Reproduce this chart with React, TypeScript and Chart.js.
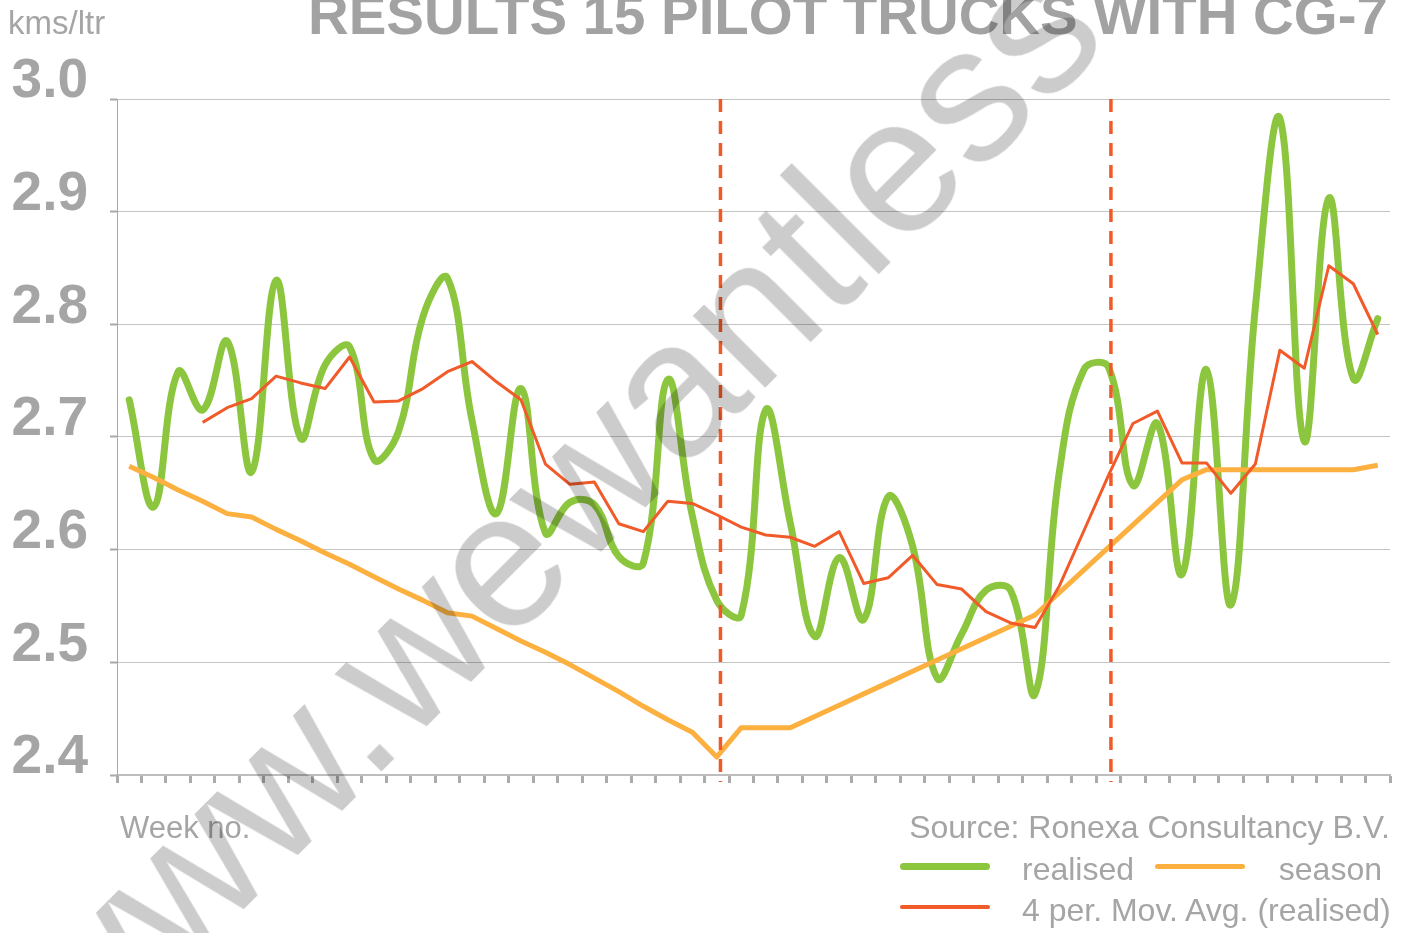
import React, { useEffect, useRef } from "react";
import { Chart, registerables } from "chart.js";

Chart.register(...registerables);

// ---- data ----
const WEEKS = [
  "1", "2", "3", "4", "5", "6", "7", "8", "9", "10", "11", "12", "13",
  "14", "15", "16", "17", "18", "19", "20", "21", "22", "23", "24", "25", "26",
  "27", "28", "29", "30", "31", "32", "33", "34", "35", "36", "37", "38", "39",
  "40", "41", "42", "43", "44", "45", "46", "47", "48", "49", "50", "51", "52",
];

const REALISED = [
  2.733, 2.638, 2.758, 2.724, 2.785, 2.669, 2.839, 2.699, 2.764, 2.780,
  2.680, 2.705, 2.807, 2.841, 2.715, 2.632, 2.743, 2.615, 2.642, 2.640,
  2.594, 2.588, 2.751, 2.630, 2.555, 2.542, 2.724, 2.624, 2.523, 2.593,
  2.538, 2.647, 2.603, 2.486, 2.525, 2.564, 2.564, 2.472, 2.670, 2.760,
  2.762, 2.657, 2.712, 2.578, 2.760, 2.551, 2.815, 2.983, 2.696, 2.912,
  2.752, 2.805,
];

const SEASON = [
  2.674, 2.664, 2.653, 2.643, 2.632, 2.629, 2.618, 2.608, 2.597, 2.587,
  2.576, 2.565, 2.555, 2.544, 2.541, 2.530, 2.519, 2.509, 2.498, 2.486,
  2.474, 2.461, 2.449, 2.438, 2.416, 2.442, 2.442, 2.442, 2.452, 2.462,
  2.472, 2.482, 2.492, 2.502, 2.512, 2.522, 2.532, 2.542, 2.562, 2.582,
  2.602, 2.622, 2.642, 2.662, 2.671, 2.671, 2.671, 2.671, 2.671, 2.671,
  2.671, 2.675,
];

const MOV_AVG = [
  null, null, null, 2.713, 2.726, 2.734, 2.754, 2.748, 2.743, 2.771,
  2.731, 2.732, 2.743, 2.758, 2.767, 2.749, 2.733, 2.676, 2.658, 2.660,
  2.623, 2.616, 2.643, 2.641, 2.631, 2.620, 2.613, 2.611, 2.603, 2.616,
  2.570, 2.575, 2.595, 2.569, 2.565, 2.545, 2.535, 2.531, 2.568, 2.617,
  2.666, 2.712, 2.723, 2.677, 2.677, 2.650, 2.676, 2.777, 2.761, 2.852,
  2.836, 2.791,
];

const Y_TICK_LABELS = ["2.4", "2.5", "2.6", "2.7", "2.8", "2.9", "3.0"];

// season break markers (in week-index units)
const SEASON_BREAKS = [24.15, 40.1];

const GREEN = "#8CC63F";
const ORANGE = "#FBB040";
const RED = "#F15A29";
const TEXT_GRAY = "#a5a5a5";
const FONT = '"Liberation Sans", Arial, Helvetica, sans-serif';

const breakLines = {
  id: "breakLines",
  afterDatasetsDraw(chart: any) {
    const { ctx, chartArea, scales } = chart;
    ctx.save();
    ctx.strokeStyle = "#F05A28";
    ctx.lineWidth = 3.5;
    ctx.setLineDash([13, 9]);
    SEASON_BREAKS.forEach((v) => {
      const x = scales.x.getPixelForValue(v);
      ctx.beginPath();
      ctx.moveTo(x, chartArea.top);
      ctx.lineTo(x, chartArea.bottom + 7);
      ctx.stroke();
    });
    ctx.restore();
  },
};

function Txt(props: {
  x?: number;
  right?: number;
  baseline: number;
  size: number;
  weight?: string;
  color?: string;
  children: React.ReactNode;
}) {
  const { x, right, baseline, size, weight, color, children } = props;
  const style: React.CSSProperties = {
    position: "absolute",
    top: baseline - 0.8465 * size,
    fontSize: size,
    lineHeight: `${size}px`,
    fontWeight: (weight as any) || "normal",
    color: color || TEXT_GRAY,
    whiteSpace: "nowrap",
    fontFamily: FONT,
  };
  if (right !== undefined) {
    style.right = right;
    style.textAlign = "right";
  } else {
    style.left = x;
  }
  return <div style={style}>{children}</div>;
}

function Swatch(props: { x: number; y: number; w: number; h: number; color: string }) {
  const { x, y, w, h, color } = props;
  return (
    <div
      style={{
        position: "absolute",
        left: x,
        top: y - h / 2,
        width: w,
        height: h,
        background: color,
        borderRadius: h / 2,
      }}
    />
  );
}

export default function App() {
  const canvasRef = useRef<HTMLCanvasElement>(null);

  useEffect(() => {
    const canvas = canvasRef.current;
    if (!canvas) return;
    const chart = new Chart(canvas, {
      type: "line",
      data: {
        labels: WEEKS,
        datasets: [
          {
            label: "realised",
            data: REALISED,
            borderColor: GREEN,
            backgroundColor: GREEN,
            borderWidth: 7,
            tension: 0.4,
            pointRadius: 0,
            borderJoinStyle: "round",
            borderCapStyle: "round",
            fill: false,
            order: 3,
          },
          {
            label: "season",
            data: SEASON,
            borderColor: ORANGE,
            backgroundColor: ORANGE,
            borderWidth: 5,
            tension: 0,
            pointRadius: 0,
            borderJoinStyle: "round",
            fill: false,
            order: 2,
          },
          {
            label: "4 per. Mov. Avg. (realised)",
            data: MOV_AVG as any,
            borderColor: RED,
            backgroundColor: RED,
            borderWidth: 3,
            tension: 0,
            pointRadius: 0,
            borderJoinStyle: "round",
            fill: false,
            order: 1,
          },
        ],
      },
      options: {
        responsive: false,
        animation: false,
        devicePixelRatio: 1,
        events: [],
        layout: { padding: { top: 99, right: 25, bottom: 0, left: 0 } },
        plugins: {
          legend: { display: false },
          tooltip: { enabled: false },
          title: { display: false },
        },
        scales: {
          x: {
            type: "category",
            offset: true,
            grid: {
              offset: true,
              drawOnChartArea: false,
              drawTicks: true,
              tickLength: 8,
              tickWidth: 3,
              tickColor: "#ababab",
            },
            border: { color: "#bdbdbd", width: 2 },
            ticks: { display: false, autoSkip: false },
            afterFit: (scale: any) => {
              scale.height = 158;
            },
          },
          y: {
            min: 2.4,
            max: 3.0,
            grid: {
              color: "#c4c4c4",
              lineWidth: 1,
              tickLength: 7,
              tickWidth: 2,
              tickColor: "#a9a9a9",
            },
            border: { color: "#a9a9a9", width: 1 },
            ticks: {
              stepSize: 0.1,
              padding: 22,
              labelOffset: -17,
              color: TEXT_GRAY,
              font: { family: FONT, size: 55, weight: "bold" },
              callback: (value: any) => {
                const idx = Math.round((Number(value) - 2.4) * 10);
                return Y_TICK_LABELS[idx] ?? "";
              },
            },
            afterFit: (scale: any) => {
              scale.width = 117;
            },
          },
        },
      },
      plugins: [breakLines],
    });
    return () => chart.destroy();
  }, []);

  return (
    <div
      style={{
        position: "fixed",
        left: 0,
        top: 0,
        width: 1415,
        height: 933,
        overflow: "hidden",
        background: "#ffffff",
        fontFamily: FONT,
      }}
    >
      <canvas
        ref={canvasRef}
        width={1415}
        height={933}
        style={{ position: "absolute", left: 0, top: 0, width: 1415, height: 933 }}
      />
      <Txt x={308} baseline={35} size={56.4} weight="bold" color="#a2a2a2">
        RESULTS 15 PILOT TRUCKS WITH CG-7
      </Txt>
      <Txt x={8} baseline={34} size={33}>
        kms/ltr
      </Txt>
      <Txt x={120} baseline={838} size={31}>
        Week no.
      </Txt>
      <Txt right={25} baseline={838} size={32}>
        Source: Ronexa Consultancy B.V.
      </Txt>
      <Swatch x={900} y={866} w={90} h={7} color={GREEN} />
      <Txt x={1022} baseline={880} size={32}>
        realised
      </Txt>
      <Swatch x={1155} y={866} w={90} h={5} color={ORANGE} />
      <Txt right={33} baseline={880} size={32}>
        season
      </Txt>
      <Swatch x={900} y={907} w={90} h={4} color={RED} />
      <Txt x={1022} baseline={921} size={32}>
        4 per. Mov. Avg. (realised)
      </Txt>
      <div
        style={{
          position: "absolute",
          left: 81,
          top: 1072 - 0.8465 * 193,
          fontSize: 193,
          lineHeight: "193px",
          fontFamily: FONT,
          color: "rgba(0,0,0,0.2)",
          whiteSpace: "nowrap",
          transformOrigin: `0px ${0.8465 * 193}px`,
          transform: "rotate(-45deg)",
          pointerEvents: "none",
        }}
      >
        www.wewantless
      </div>
    </div>
  );
}
